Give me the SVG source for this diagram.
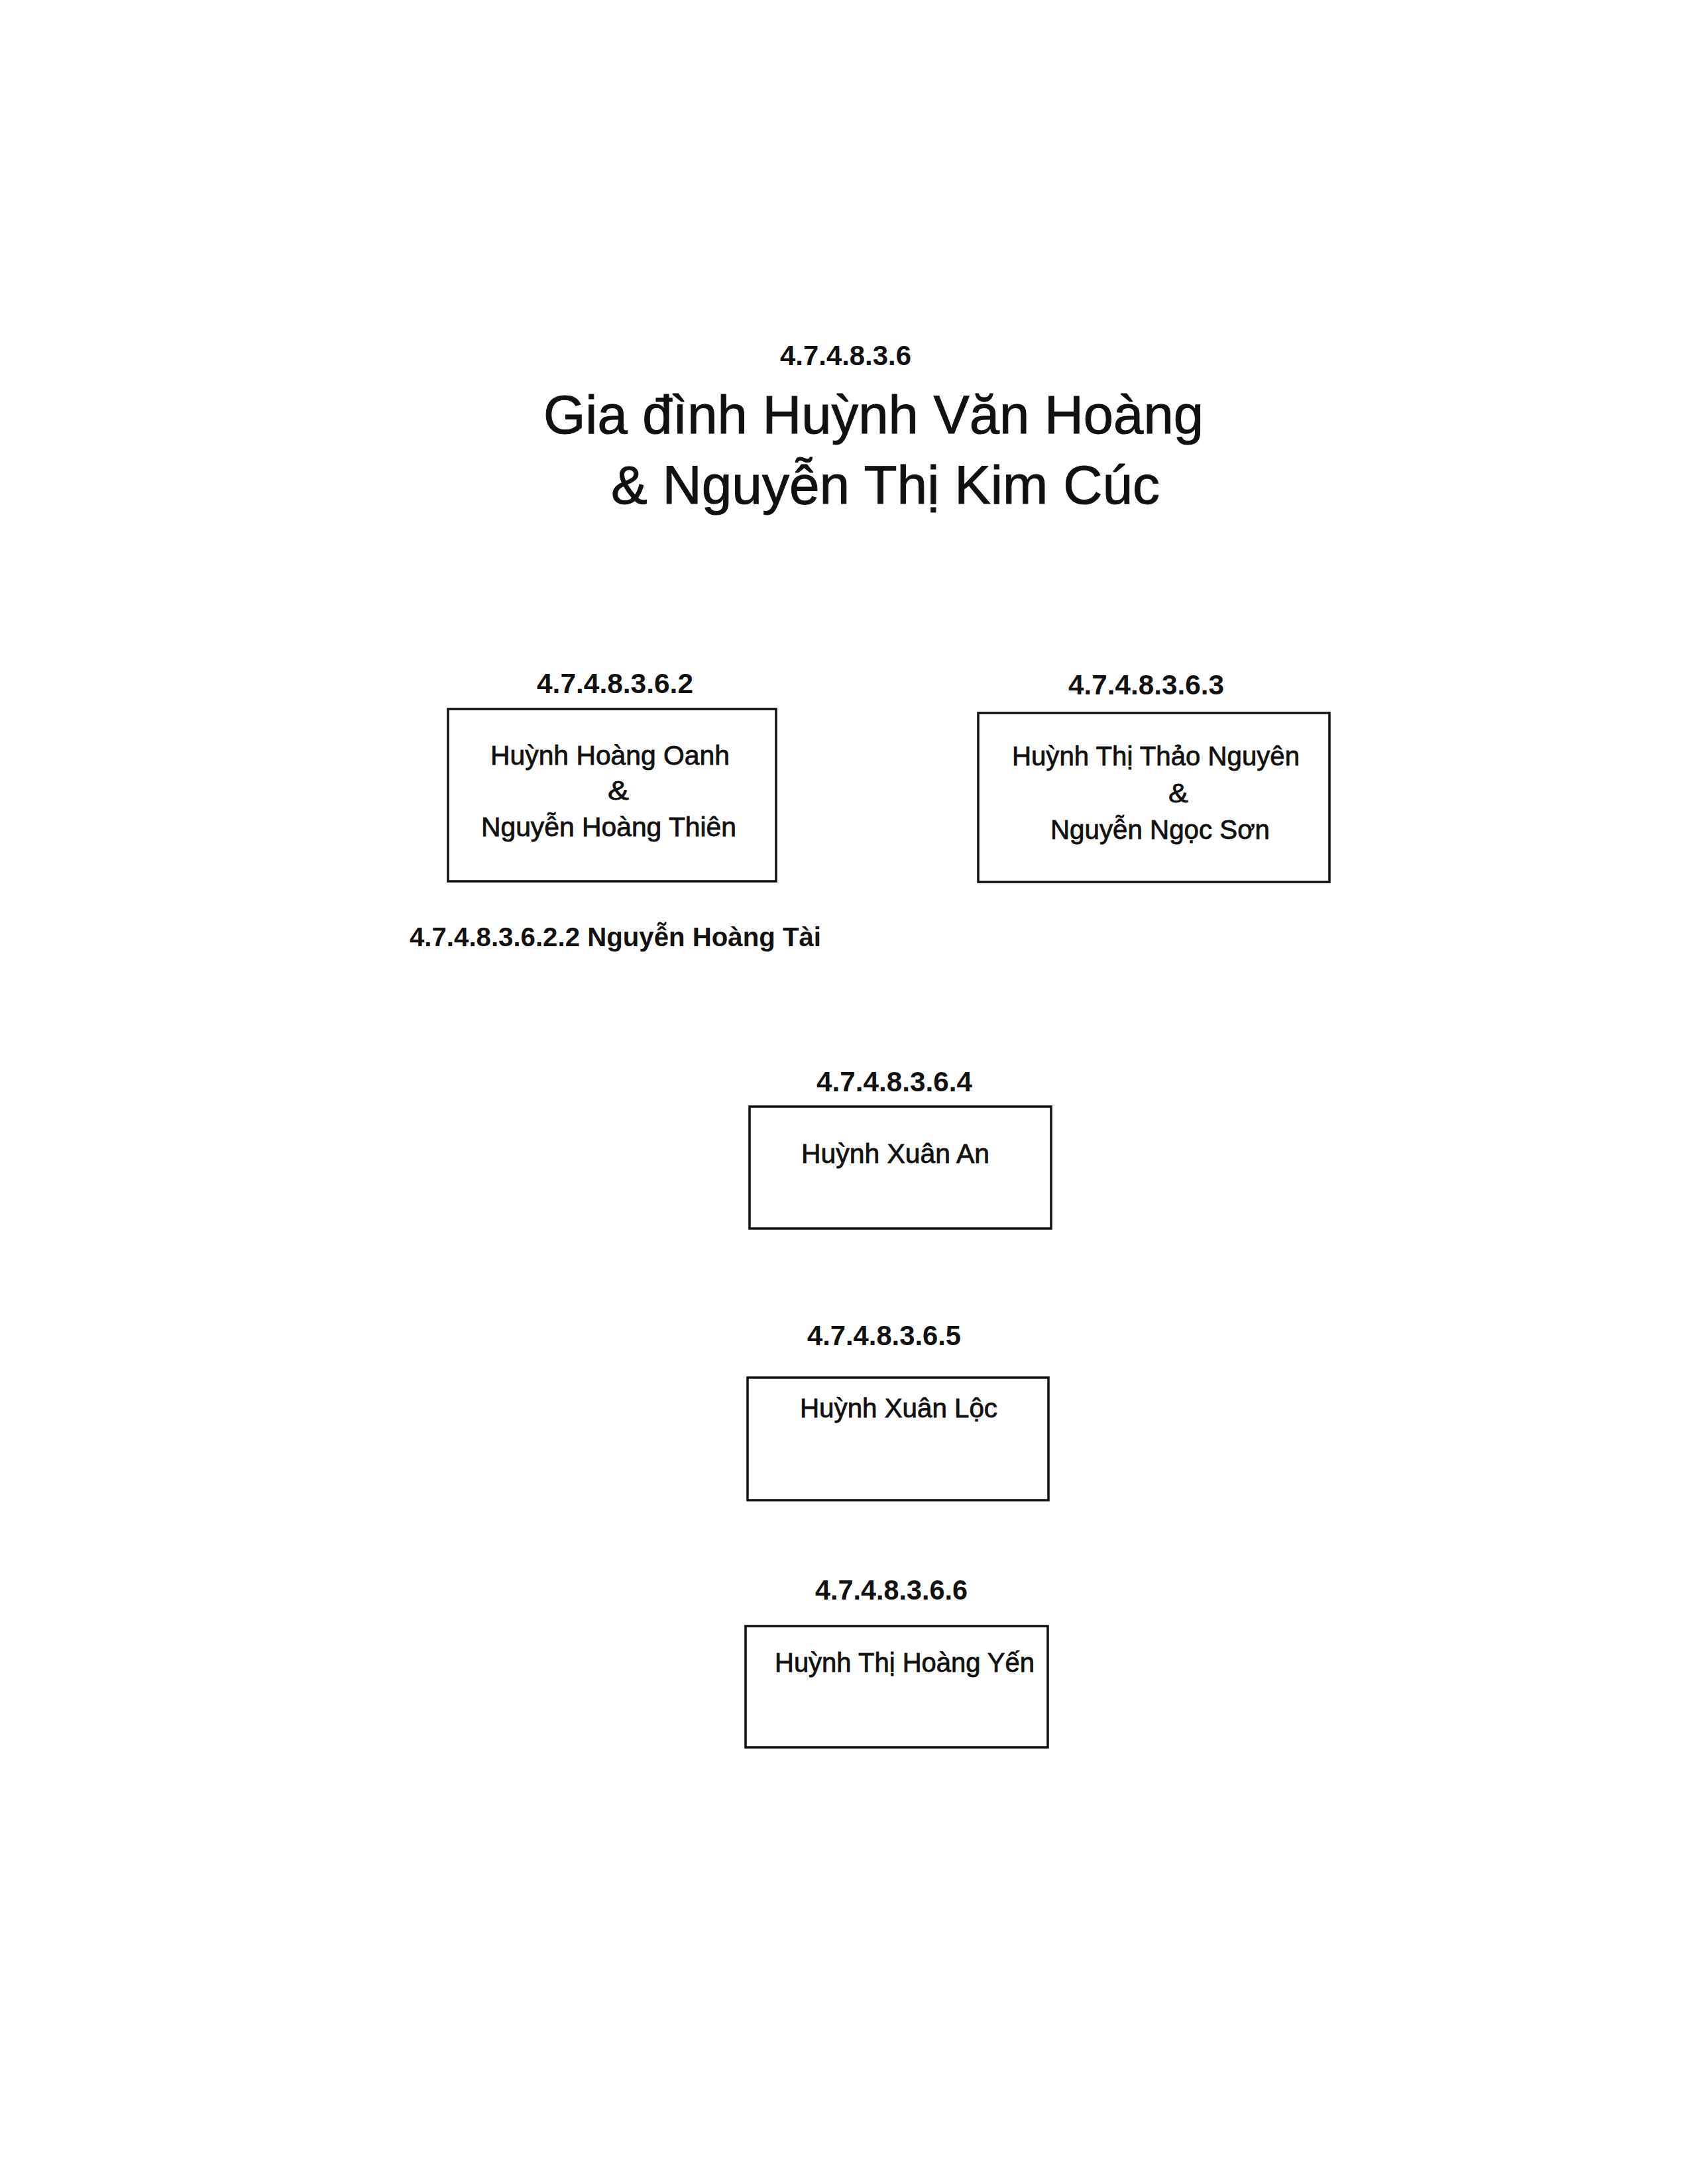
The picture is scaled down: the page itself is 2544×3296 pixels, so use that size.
<svg xmlns="http://www.w3.org/2000/svg" width="2544" height="3296" viewBox="0 0 2544 3296">
<style>
text{font-family:"Liberation Sans","DejaVu Sans",sans-serif;fill:#111}
.title{font-size:82px;stroke:#111;stroke-width:1}
.num{font-size:42px;font-weight:bold}
.name{font-size:40px;stroke:#111;stroke-width:0.8}
.line{font-size:41px;font-weight:bold}
.box{fill:#fff;stroke:#111;stroke-width:3.5}
</style>
<rect width="2544" height="3296" fill="#fff"/>
<g id="header">
<text class="num" x="1177" y="551" textLength="198" lengthAdjust="spacingAndGlyphs">4.7.4.8.3.6</text>
<text class="title" x="820" y="654" textLength="996" lengthAdjust="spacingAndGlyphs">Gia đình Huỳnh Văn Hoàng</text>
<text class="title" x="922" y="760" textLength="828" lengthAdjust="spacingAndGlyphs">&amp; Nguyễn Thị Kim Cúc</text>
</g>
<g id="connectors"></g>
<g id="node-2">
<text class="num" x="810" y="1046" textLength="236" lengthAdjust="spacingAndGlyphs">4.7.4.8.3.6.2</text>
<rect class="box" x="676" y="1070" width="495" height="260"/>
<text class="name" x="740" y="1154" textLength="361" lengthAdjust="spacingAndGlyphs">Huỳnh Hoàng Oanh</text>
<text class="name" x="917" y="1207" textLength="32" lengthAdjust="spacingAndGlyphs">&amp;</text>
<text class="name" x="726" y="1262" textLength="385" lengthAdjust="spacingAndGlyphs">Nguyễn Hoàng Thiên</text>
</g>
<g id="node-2-2">
<text class="line" x="618" y="1428" textLength="621" lengthAdjust="spacingAndGlyphs">4.7.4.8.3.6.2.2 Nguyễn Hoàng Tài</text>
</g>
<g id="node-3">
<text class="num" x="1612" y="1048" textLength="235" lengthAdjust="spacingAndGlyphs">4.7.4.8.3.6.3</text>
<rect class="box" x="1476" y="1076" width="530" height="255"/>
<text class="name" x="1527" y="1155" textLength="434" lengthAdjust="spacingAndGlyphs">Huỳnh Thị Thảo Nguyên</text>
<text class="name" x="1763" y="1211" textLength="30" lengthAdjust="spacingAndGlyphs">&amp;</text>
<text class="name" x="1585" y="1266" textLength="331" lengthAdjust="spacingAndGlyphs">Nguyễn Ngọc Sơn</text>
</g>
<g id="node-4">
<text class="num" x="1232" y="1647" textLength="235" lengthAdjust="spacingAndGlyphs">4.7.4.8.3.6.4</text>
<rect class="box" x="1131" y="1670" width="455" height="184"/>
<text class="name" x="1209" y="1755" textLength="284" lengthAdjust="spacingAndGlyphs">Huỳnh Xuân An</text>
</g>
<g id="node-5">
<text class="num" x="1218" y="2030" textLength="232" lengthAdjust="spacingAndGlyphs">4.7.4.8.3.6.5</text>
<rect class="box" x="1128" y="2079" width="454" height="185"/>
<text class="name" x="1207" y="2139" textLength="298" lengthAdjust="spacingAndGlyphs">Huỳnh Xuân Lộc</text>
</g>
<g id="node-6">
<text class="num" x="1230" y="2414" textLength="230" lengthAdjust="spacingAndGlyphs">4.7.4.8.3.6.6</text>
<rect class="box" x="1125" y="2454" width="456" height="183"/>
<text class="name" x="1169" y="2523" textLength="392" lengthAdjust="spacingAndGlyphs">Huỳnh Thị Hoàng Yến</text>
</g>
</svg>
